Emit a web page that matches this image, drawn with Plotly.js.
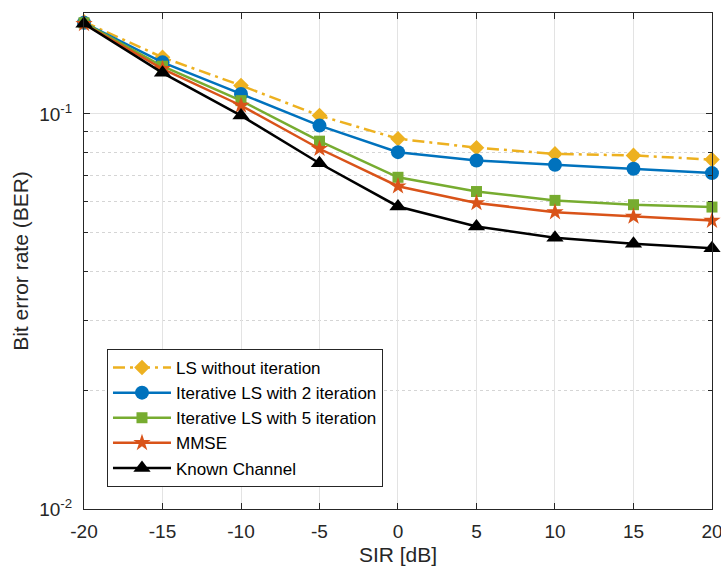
<!DOCTYPE html>
<html>
<head>
<meta charset="utf-8">
<script src="https://cdn.plot.ly/plotly-3.0.1.min.js"></script>
<style>html,body{margin:0;padding:0;background:#fff;}#chart{width:721px;height:568px;}</style>
</head>
<body>
<div id="chart"></div>
<script>
const sir = [-20, -15, -10, -5, 0, 5, 10, 15, 20];
const lsNoIter = [0.171, 0.139, 0.118, 0.099, 0.0865, 0.0821, 0.0792, 0.0785, 0.0766];
const ls2Iter  = [0.170, 0.135, 0.1123, 0.0934, 0.0800, 0.0762, 0.0743, 0.0726, 0.0708];
const ls5Iter  = [0.170, 0.132, 0.108, 0.0853, 0.0691, 0.0636, 0.0604, 0.0589, 0.0581];
const mmse     = [0.169, 0.130, 0.105, 0.0816, 0.0656, 0.0595, 0.0564, 0.0550, 0.0537];
const known    = [0.169, 0.127, 0.099, 0.0750, 0.0583, 0.0519, 0.0486, 0.0469, 0.0457];
const names = ['LS without iteration', 'Iterative LS with 2 iteration', 'Iterative LS with 5 iteration', 'MMSE', 'Known Channel'];
const xTicks = [-20, -15, -10, -5, 0, 5, 10, 15, 20];
const yTicks = [0.01, 0.1];
const yTickText = ['10<sup>-2</sup>', '10<sup>-1</sup>'];
const yMinorTicks = [0.02, 0.03, 0.04, 0.05, 0.06, 0.07, 0.08, 0.09];

const series = [lsNoIter, ls2Iter, ls5Iter, mmse, known];
const colors = ['#EDB120', '#0072BD', '#77AC30', '#D95319', '#000000'];
const symbols = ['diamond', 'circle', 'square', 'star', 'triangle-up'];
const sizes = [12, 14, 11, 13, 15];
const dashes = ['12px,5px,3px,5px', 'solid', 'solid', 'solid', 'solid'];

const traces = series.map((ys, i) => ({
  x: sir, y: ys, name: names[i], type: 'scatter', mode: 'lines+markers',
  line: {color: colors[i], width: 2.5, dash: dashes[i]},
  marker: {color: colors[i], symbol: symbols[i], size: sizes[i], line: {width: 0}},
  cliponaxis: false
}));

const axisColor = '#262626';
const layout = {
  width: 721, height: 568,
  margin: {l: 84, r: 9, t: 13, b: 59},
  paper_bgcolor: '#ffffff', plot_bgcolor: '#ffffff',
  font: {family: 'Liberation Sans, Arial, sans-serif', size: 19, color: axisColor},
  showlegend: true,
  legend: {
    x: 0.0366, y: 0.3226, xanchor: 'left', yanchor: 'top',
    bgcolor: '#ffffff', bordercolor: axisColor, borderwidth: 1,
    font: {size: 17, color: '#000000'}, itemwidth: 58, tracegroupgap: 0
  },
  xaxis: {
    range: [-20, 20.001], tickvals: xTicks, ticktext: xTicks.map(String),
    showline: true, linecolor: axisColor, linewidth: 1, mirror: 'ticks',
    ticks: 'inside', ticklen: 6, tickcolor: axisColor, tickwidth: 1,
    showgrid: true, gridcolor: '#e3e3e3', gridwidth: 1, zeroline: false,
    ticklabelstandoff: 5, ticklabeloverflow: 'allow',
    title: {text: 'SIR [dB]', standoff: 6, font: {size: 21}}
  },
  yaxis: {
    type: 'log', range: [-2, Math.log10(0.18)],
    tickvals: yTicks, ticktext: yTickText,
    showline: true, linecolor: axisColor, linewidth: 1, mirror: 'ticks',
    ticks: 'inside', ticklen: 6, tickcolor: axisColor, tickwidth: 1,
    showgrid: true, gridcolor: '#e3e3e3', gridwidth: 1, zeroline: false,
    ticklabelstandoff: 7,
    minor: {tickvals: yMinorTicks, ticks: 'inside', ticklen: 4, tickcolor: axisColor,
            showgrid: true, gridcolor: '#d5d5d5', griddash: 'dot', gridwidth: 1},
    title: {text: 'Bit error rate (BER)', standoff: 4, font: {size: 21}}
  }
};

Plotly.newPlot('chart', traces, layout, {displayModeBar: false, staticPlot: true});
</script>
</body>
</html>
